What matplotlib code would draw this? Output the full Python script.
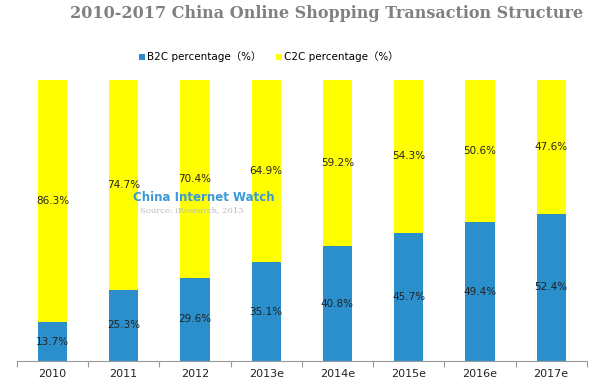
import matplotlib

matplotlib.use("Agg")
import matplotlib.pyplot as plt
import numpy as np

years = ["2010", "2011", "2012", "2013e", "2014e", "2015e", "2016e", "2017e"]
b2c = [13.7, 25.3, 29.6, 35.1, 40.8, 45.7, 49.4, 52.4]
c2c = [86.3, 74.7, 70.4, 64.9, 59.2, 54.3, 50.6, 47.6]

plt.rcParams["font.family"] = ["DejaVu Sans", "Noto Sans CJK SC"]

blue = "#2b8fcb"
yellow = "#ffff00"

fig = plt.figure(figsize=(6, 3.88), dpi=100)
ax = fig.add_axes([0.028, 0.0696, 0.95, 0.7244])

x = np.arange(len(years))
w = 0.41
ax.bar(x, b2c, width=w, color=blue, label="B2C percentage（%）")
ax.bar(x, c2c, width=w, bottom=b2c, color=yellow, label="C2C percentage（%）")

for i in range(len(years)):
    ax.text(x[i], b2c[i] / 2, f"{b2c[i]:.1f}%", ha="center", va="center",
            fontsize=7.5, color="#222222")
    ax.text(x[i], b2c[i] + c2c[i] / 2, f"{c2c[i]:.1f}%", ha="center", va="center",
            fontsize=7.5, color="#222222")

ax.set_xlim(-0.5, len(years) - 0.5)
ax.set_ylim(0, 100)
ax.set_yticks([])
for s in ["top", "right", "left"]:
    ax.spines[s].set_visible(False)
ax.spines["bottom"].set_color("#999999")

ax.set_xticks(np.arange(-0.5, len(years)), minor=False)
ax.set_xticklabels([])
ax.tick_params(axis="x", which="major", length=4, color="#999999", direction="out")
ax.set_xticks(x, minor=True)
ax.set_xticklabels(years, minor=True, fontsize=8, color="#222222")
ax.tick_params(axis="x", which="minor", length=0, pad=6)

fig.text(0.544, 0.965, "2010-2017 China Online Shopping Transaction Structure",
         ha="center", va="center", fontsize=11.5, fontweight="bold",
         family="DejaVu Serif", color="#808080")

fig.legend(loc="center", bbox_to_anchor=(0.448, 0.853), ncol=2, frameon=False,
           fontsize=7.5, handlelength=0.6, handleheight=0.6, columnspacing=1.4,
           handletextpad=0.2)

# watermark
fig.text(0.222, 0.492, "China Internet Watch", ha="left", va="center",
         fontsize=8.5, fontweight="bold", color="#3a9ad9")
fig.text(0.233, 0.458, "Source: iResearch, 2013", ha="left", va="center",
         fontsize=6, family="DejaVu Serif", color="#bbbbbb")

fig.savefig("out.png", dpi=100)
